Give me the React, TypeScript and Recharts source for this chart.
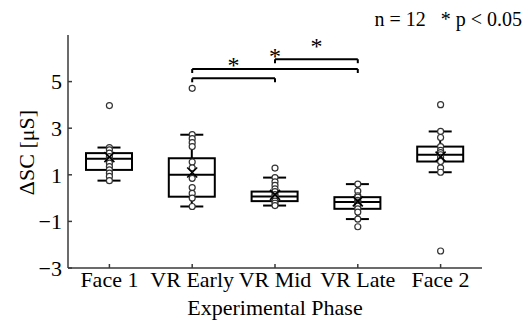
import React from 'react';
import { ComposedChart, Bar, Scatter, XAxis, YAxis, ReferenceLine, Label } from 'recharts';

const categories = ['Face 1', 'VR Early', 'VR Mid', 'VR Late', 'Face 2'];
const whiskerLow = [0.75, -0.36, -0.32, -0.9, 1.11];
const q1 = [1.21, 0.06, -0.13, -0.46, 1.57];
const median = [1.69, 1.0, 0.07, -0.17, 1.86];
const q3 = [1.93, 1.71, 0.28, 0.04, 2.21];
const whiskerHigh = [2.17, 2.72, 0.88, 0.6, 2.86];
const means = [1.76, 1.1, 0.14, -0.14, 1.78];

const face1Points = [3.97, 2.17, 2.07, 1.93, 1.78, 1.64, 1.5, 1.35, 1.21, 1.07, 0.93, 0.75];
const vrEarlyPoints = [4.71, 2.72, 2.55, 2.38, 2.21, 1.55, 1.3, 0.85, 0.45, 0.2, 0.0, -0.36];
const vrMidPoints = [1.29, 0.88, 0.7, 0.55, 0.4, 0.28, 0.15, 0.07, 0.0, -0.13, -0.22, -0.32];
const vrLatePoints = [0.6, 0.3, 0.1, 0.04, -0.1, -0.17, -0.25, -0.35, -0.46, -0.6, -0.9, -1.23];
const face2Points = [4.01, 2.86, 2.6, 2.21, 2.05, 1.95, 1.86, 1.75, 1.57, 1.3, 1.11, -2.27];
const pointSets = [face1Points, vrEarlyPoints, vrMidPoints, vrLatePoints, face2Points];

const yTicks = [-3, -1, 1, 3, 5];
const yDomain = [-3, 7];

const bracketFrom = ['VR Early', 'VR Early', 'VR Mid'];
const bracketTo = ['VR Mid', 'VR Late', 'VR Late'];
const bracketLevel = [5.14, 5.54, 5.96];
const bracketDrop = 0.17;

const headerText = 'n = 12   * p < 0.05';
const xLabel = 'Experimental Phase';
const yLabel = 'ΔSC [μS]';

const FONT = 'Liberation Serif';
const INK = '#000';
const FRAME = '#3a3a3a';
const TXT = { fontFamily: FONT, fontSize: 22 };

const data = categories.map((name, i) => {
  const row: any = {
    name,
    box: [q1[i], q3[i]],
    low: whiskerLow[i],
    q1: q1[i],
    median: median[i],
    q3: q3[i],
    high: whiskerHigh[i],
    mean: means[i],
  };
  pointSets[i].forEach((v, j) => {
    row['p' + j] = v;
  });
  return row;
});

const pointKeys = face1Points.map((_, j) => 'p' + j);

const BoxShape = (props: any) => {
  const { x, y, width, height, payload } = props;
  if (!payload) return null;
  const top = Math.min(y, y + height);
  const h = Math.abs(height);
  const ppu = h / (payload.q3 - payload.q1);
  const py = (v: number) => top + (payload.q3 - v) * ppu;
  const cx = x + width / 2;
  const capHalf = width / 4;
  const yHigh = py(payload.high);
  const yLow = py(payload.low);
  const yMed = py(payload.median);
  return (
    <g stroke={INK} strokeWidth={2} fill="none">
      <line x1={cx} x2={cx} y1={yHigh} y2={top} />
      <line x1={cx} x2={cx} y1={top + h} y2={yLow} />
      <line x1={cx - capHalf} x2={cx + capHalf} y1={yHigh} y2={yHigh} />
      <line x1={cx - capHalf} x2={cx + capHalf} y1={yLow} y2={yLow} />
      <rect x={x} y={top} width={width} height={h} />
      <line x1={x} x2={x + width} y1={yMed} y2={yMed} />
    </g>
  );
};

const PointShape = (props: any) => {
  const { cx, cy } = props;
  if (cx == null || cy == null) return null;
  return <circle cx={cx} cy={cy} r={3} fill="#fff" stroke="#333" strokeWidth={1.2} />;
};

const MeanShape = (props: any) => {
  const { cx, cy } = props;
  if (cx == null || cy == null) return null;
  const s = 5;
  return (
    <g stroke={INK} strokeWidth={1.6}>
      <line x1={cx - s} y1={cy - s} x2={cx + s} y2={cy + s} />
      <line x1={cx - s} y1={cy + s} x2={cx + s} y2={cy - s} />
    </g>
  );
};

const YTick = (props: any) => {
  const { x, y, payload } = props;
  const v = payload.value;
  const s = v < 0 ? '\u2212' + Math.abs(v) : String(v);
  return (
    <text x={x} y={y} textAnchor="end" dy="0.35em" fill={INK} style={TXT}>
      {s}
    </text>
  );
};

export default function App() {
  return (
    <div style={{ position: 'absolute', left: 0, top: 0, width: 523, height: 320, background: '#fff', fontFamily: FONT }}>
      <ComposedChart
        width={523}
        height={320}
        data={data}
        margin={{ top: 35, right: 41, bottom: 0, left: 0 }}
        style={{ fontFamily: FONT }}
      >
        <XAxis
          dataKey="name"
          type="category"
          height={52}
          interval={0}
          tickSize={-4}
          tickMargin={7}
          axisLine={{ stroke: FRAME, strokeWidth: 1.5 }}
          tickLine={{ stroke: FRAME, strokeWidth: 1.5 }}
          tick={{ fill: INK, fontSize: 22, fontFamily: FONT }}
        >
          <Label
            value={xLabel}
            position="insideBottom"
            offset={5}
            style={{ fill: INK, ...TXT }}
          />
        </XAxis>
        <XAxis
          xAxisId="top"
          dataKey="name"
          orientation="top"
          height={0}
          tick={false}
          tickLine={false}
          axisLine={{ stroke: FRAME, strokeWidth: 1.5 }}
        />
        <YAxis
          type="number"
          domain={yDomain}
          ticks={yTicks}
          interval={0}
          width={68}
          tickSize={-4}
          tickMargin={10}
          axisLine={{ stroke: FRAME, strokeWidth: 1.5 }}
          tickLine={{ stroke: FRAME, strokeWidth: 1.5 }}
          tick={<YTick />}
        >
          <Label
            content={(p: any) => {
              const vb = p.viewBox || { x: 0, y: 35, width: 68, height: 233 };
              const lx = vb.x + 26;
              const ly = vb.y + vb.height / 2 + 1;
              return (
                <text
                  x={lx}
                  y={ly}
                  transform={`rotate(-90, ${lx}, ${ly})`}
                  textAnchor="middle"
                  dy="0.35em"
                  fill={INK}
                  style={TXT}
                >
                  {yLabel}
                </text>
              );
            }}
          />
        </YAxis>
        <YAxis
          yAxisId="right"
          orientation="right"
          type="number"
          domain={yDomain}
          width={0}
          tick={false}
          tickLine={false}
          axisLine={{ stroke: FRAME, strokeWidth: 1.5 }}
        />
        <Bar dataKey="box" barSize={46} shape={<BoxShape />} isAnimationActive={false} />
        {pointKeys.map((k) => (
          <Scatter key={k} dataKey={k} shape={<PointShape />} isAnimationActive={false} />
        ))}
        <Scatter dataKey="mean" shape={<MeanShape />} isAnimationActive={false} />
        {bracketFrom.map((from, i) => (
          <ReferenceLine
            key={'b' + i}
            segment={[
              { x: from, y: bracketLevel[i] },
              { x: bracketTo[i], y: bracketLevel[i] },
            ]}
            stroke={INK}
            strokeWidth={2}
            label={{ value: '*', position: 'top', offset: 5, fill: INK, fontSize: 24, fontFamily: FONT }}
          />
        ))}
        {bracketFrom.map((from, i) => (
          <ReferenceLine
            key={'l' + i}
            segment={[
              { x: from, y: bracketLevel[i] },
              { x: from, y: bracketLevel[i] - bracketDrop },
            ]}
            stroke={INK}
            strokeWidth={2}
          />
        ))}
        {bracketTo.map((to, i) => (
          <ReferenceLine
            key={'r' + i}
            segment={[
              { x: to, y: bracketLevel[i] },
              { x: to, y: bracketLevel[i] - bracketDrop },
            ]}
            stroke={INK}
            strokeWidth={2}
          />
        ))}
      </ComposedChart>
      <svg
        width={523}
        height={320}
        style={{ position: 'absolute', left: 0, top: 0, pointerEvents: 'none' }}
      >
        <text
          x={522}
          y={26}
          textAnchor="end"
          fill={INK}
          style={{ whiteSpace: 'pre', fontFamily: FONT, fontSize: 20 }}
        >
          {headerText}
        </text>
      </svg>
    </div>
  );
}
